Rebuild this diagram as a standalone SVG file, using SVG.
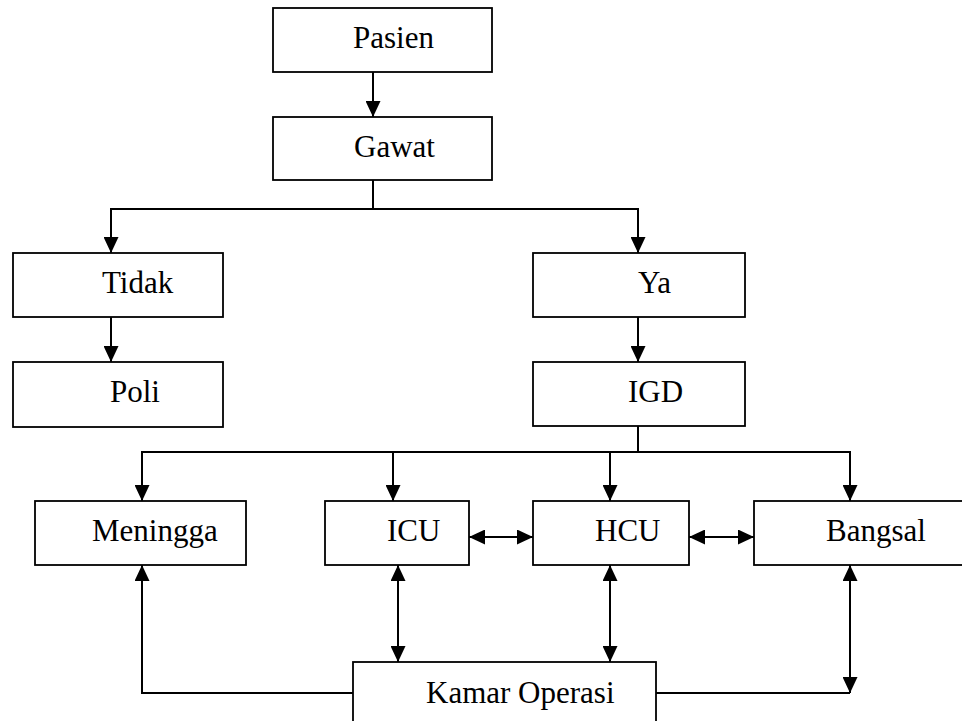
<svg xmlns="http://www.w3.org/2000/svg" width="962" height="721" viewBox="0 0 962 721">
<style>
.box{fill:#fff;stroke:#000;stroke-width:1.8}
.lbl{font-family:"Liberation Serif","Times New Roman",serif;font-size:31px;fill:#000}
.c{fill:none;stroke:#000;stroke-width:2}
.a{marker-end:url(#ah)}
.d{marker-start:url(#ah);marker-end:url(#ah)}
</style>
<defs>
<marker id="ah" markerUnits="userSpaceOnUse" markerWidth="16" markerHeight="15" refX="16" refY="7.5" orient="auto-start-reverse" viewBox="0 0 16 15">
<path d="M0,0 L16,7.5 L0,15 z" fill="#000"/>
</marker>
</defs>
<rect width="962" height="721" fill="#fff"/>
<g id="connectors">
<line class="c a" x1="373" y1="72" x2="373" y2="117"/>
<polyline class="c" points="373,180 373,209"/>
<polyline class="c a" points="373,209 111,209 111,253"/>
<polyline class="c a" points="373,209 638,209 638,253"/>
<line class="c a" x1="111" y1="317" x2="111" y2="362"/>
<line class="c a" x1="638" y1="317" x2="638" y2="362"/>
<polyline class="c" points="638,426 638,452"/>
<polyline class="c a" points="638,452 142,452 142,501"/>
<polyline class="c a" points="393,452 393,501"/>
<polyline class="c a" points="610,452 610,501"/>
<polyline class="c a" points="638,452 850,452 850,501"/>
<line class="c d" x1="469" y1="537" x2="533" y2="537"/>
<line class="c d" x1="689" y1="537" x2="754" y2="537"/>
<line class="c d" x1="398" y1="565" x2="398" y2="662"/>
<line class="c d" x1="610" y1="565" x2="610" y2="662"/>
<polyline class="c a" points="353,693 142,693 142,565"/>
<polyline class="c" points="656,693 850,693"/>
<line class="c d" x1="850" y1="565" x2="850" y2="693"/>
</g>
<g id="pasien"><rect class="box" x="273" y="8" width="219" height="64"/><text class="lbl" x="353" y="48">Pasien</text></g>
<g id="gawat"><rect class="box" x="273" y="117" width="219" height="63"/><text class="lbl" x="354" y="157">Gawat</text></g>
<g id="tidak"><rect class="box" x="13" y="253" width="210" height="64"/><text class="lbl" x="102" y="293">Tidak</text></g>
<g id="poli"><rect class="box" x="13" y="362" width="210" height="65"/><text class="lbl" x="110" y="402">Poli</text></g>
<g id="ya"><rect class="box" x="533" y="253" width="212" height="64"/><text class="lbl" x="638" y="293">Ya</text></g>
<g id="igd"><rect class="box" x="533" y="362" width="212" height="64"/><text class="lbl" x="628" y="402">IGD</text></g>
<g id="meningga"><rect class="box" x="35" y="501" width="211" height="64"/><text class="lbl" x="92" y="541">Meningga</text></g>
<g id="icu"><rect class="box" x="325" y="501" width="144" height="64"/><text class="lbl" x="387" y="541">ICU</text></g>
<g id="hcu"><rect class="box" x="533" y="501" width="156" height="64"/><text class="lbl" x="595" y="541">HCU</text></g>
<g id="bangsal"><rect class="box" x="754" y="501" width="220" height="64"/><text class="lbl" x="826" y="541">Bangsal</text></g>
<g id="kamar-operasi"><rect class="box" x="353" y="662" width="303" height="80"/><text class="lbl" x="426" y="703">Kamar Operasi</text></g>
</svg>
